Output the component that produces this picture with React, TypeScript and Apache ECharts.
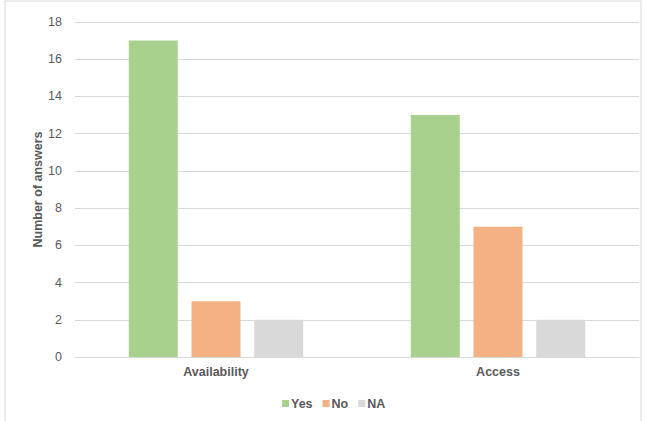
import React, { useEffect, useRef } from "react";
import * as echarts from "echarts";

const categories = ["Availability", "Access"];
const yesValues = [17, 13];
const noValues = [3, 7];
const naValues = [2, 2];
const seriesNames = ["Yes", "No", "NA"];
const colors = ["#a9d18e", "#f4b183", "#d9d9d9"];

export default function App() {
  const ref = useRef<HTMLDivElement>(null);
  useEffect(() => {
    const chart = echarts.init(ref.current!, null, { renderer: "svg" });
    const font = "'Liberation Sans', Arial, sans-serif";
    const data = [yesValues, noValues, naValues];
    chart.setOption({
      animation: false,
      textStyle: { fontFamily: font },
      graphic: [
        {
          type: "rect",
          shape: { x: 5, y: 1, width: 636, height: 440 },
          style: { fill: "none", stroke: "#d9d9d9", lineWidth: 1 },
          silent: true,
        },
      ],
      grid: { left: 75, right: 10, top: 22, bottom: 64 },
      legend: {
        top: 392,
        left: 277,
        itemWidth: 7,
        itemHeight: 7,
        itemGap: 10,
        icon: "rect",
        textStyle: { fontSize: 12.5, fontWeight: "bold", color: "#595959", padding: [0, 0, 0, -3] },
        data: seriesNames,
      },
      xAxis: {
        type: "category",
        data: categories,
        axisLine: { lineStyle: { color: "#d9d9d9" } },
        axisTick: { show: false },
        axisLabel: { fontSize: 12.5, fontWeight: "bold", color: "#595959", margin: 8 },
      },
      yAxis: {
        type: "value",
        min: 0,
        max: 18,
        interval: 2,
        name: "Number of answers",
        nameLocation: "middle",
        nameGap: 31,
        nameMoveOverlap: false,
        nameTextStyle: { fontSize: 12.5, fontWeight: "bold", color: "#595959" },
        axisLine: { show: false },
        axisTick: { show: false },
        axisLabel: { fontSize: 12.5, color: "#595959", margin: 13 },
        splitLine: { lineStyle: { color: "#d9d9d9" } },
      },
      series: seriesNames.map((name, i) => ({
        name,
        type: "bar",
        data: data[i],
        barWidth: 49,
        barGap: "28%",
        itemStyle: { color: colors[i] },
      })),
    });
    return () => chart.dispose();
  }, []);
  return <div ref={ref} style={{ width: 649, height: 421, position: "absolute", left: 0, top: 0 }} />;
}
